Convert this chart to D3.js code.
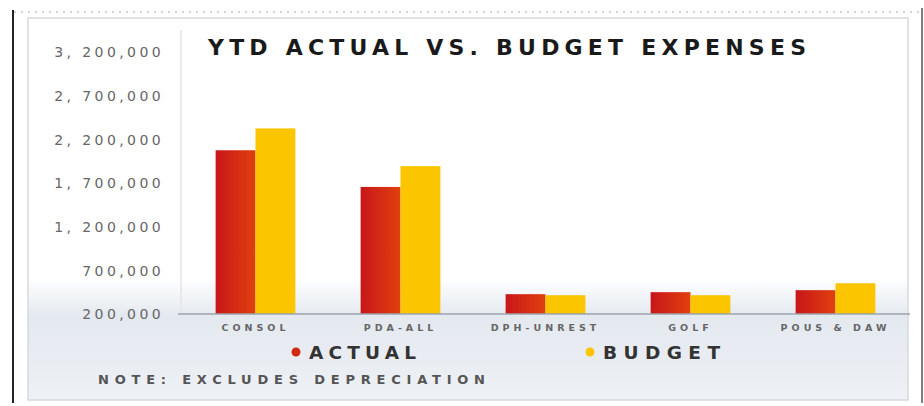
<!DOCTYPE html>
<html>
<head>
<meta charset="utf-8">
<script src="https://cdn.jsdelivr.net/npm/d3@7"></script>
<style>
  html, body { margin: 0; padding: 0; background: #fff; }
  svg { display: block; }
</style>
</head>
<body>
<div id="chart"></div>
<script>
// chart data
const categories = ["CONSOL", "PDA-ALL", "DPH-UNREST", "GOLF", "POUS & DAW"];
const actual = [2075000, 1655000, 427000, 450000, 473000];
const budget = [2325000, 1893000, 415000, 415000, 552000];
const seriesNames = ["ACTUAL", "BUDGET"];
const tickValues = [200000, 700000, 1200000, 1700000, 2200000, 2700000, 3200000];
const tickLabels = ["200,000", "700,000", "1, 200,000", "1, 700,000", "2, 200,000", "2, 700,000", "3, 200,000"];

const width = 924;
const height = 406;
const colors = { ACTUAL: "#d22a12", BUDGET: "#fbc500" };

const svg = d3.select("#chart")
  .append("svg")
  .attr("width", width)
  .attr("height", height);

const defs = svg.append("defs");
const bg = defs.append("linearGradient").attr("id", "bg").attr("x1", 0).attr("x2", 0).attr("y1", 0).attr("y2", 1);
bg.append("stop").attr("offset", "0%").attr("stop-color", "#ffffff");
bg.append("stop").attr("offset", "68%").attr("stop-color", "#ffffff");
bg.append("stop").attr("offset", "78%").attr("stop-color", "#e4e9f0");
bg.append("stop").attr("offset", "100%").attr("stop-color", "#eef1f5");

const redGrad = defs.append("linearGradient").attr("id", "redGrad").attr("x1", 0).attr("x2", 1);
redGrad.append("stop").attr("offset", "0%").attr("stop-color", "#c8161a");
redGrad.append("stop").attr("offset", "100%").attr("stop-color", "#e0400e");

// page frame
svg.append("rect").attr("x", 0).attr("y", 0).attr("width", width).attr("height", height).attr("fill", "#fff");
svg.append("rect")
  .attr("x", 28).attr("y", 18).attr("width", 880).attr("height", 382)
  .attr("fill", "url(#bg)")
  .attr("stroke", "#d6d9dd").attr("stroke-width", 1.5);
svg.append("line").attr("x1", 13).attr("x2", 13).attr("y1", 10).attr("y2", 403)
  .attr("stroke", "#222").attr("stroke-width", 2);
svg.append("line").attr("x1", 922).attr("x2", 922).attr("y1", 8).attr("y2", 403)
  .attr("stroke", "#555").attr("stroke-width", 1.5);
svg.append("line").attr("x1", 14).attr("x2", 920).attr("y1", 12).attr("y2", 12)
  .attr("stroke", "#aaa").attr("stroke-width", 1).attr("stroke-dasharray", "2,5");

const margin = { left: 183, right: 16, top: 52, bottom: 92 };
const plotW = width - margin.left - margin.right;

const x = d3.scaleBand()
  .domain(categories)
  .range([margin.left, margin.left + plotW])
  .paddingInner(0.45)
  .paddingOuter(0.225);

const xSub = d3.scaleBand()
  .domain(seriesNames)
  .range([0, x.bandwidth()]);

const y = d3.scaleLinear()
  .domain([200000, 3200000])
  .range([314, 52]);

// y axis labels
const yAxis = d3.axisLeft(y)
  .tickValues(tickValues)
  .tickFormat((d, i) => tickLabels[i])
  .tickSize(0)
  .tickPadding(0);

const yg = svg.append("g")
  .attr("transform", "translate(164,0)")
  .call(yAxis);
yg.select(".domain").remove();
yg.selectAll("text")
  .attr("fill", "#666")
  .attr("font-family", "DejaVu Sans, sans-serif")
  .attr("font-size", 14)
  .attr("letter-spacing", "3.4px")
  .attr("dy", "0.35em");

// plot area left edge
svg.append("line")
  .attr("x1", 181).attr("x2", 181).attr("y1", 30).attr("y2", 314)
  .attr("stroke", "#e4e4e4").attr("stroke-width", 1.5);

// bars
const rows = categories.map((c, i) => ({ cat: c, ACTUAL: actual[i], BUDGET: budget[i] }));

const groups = svg.append("g").selectAll("g")
  .data(rows)
  .join("g")
  .attr("transform", (d) => `translate(${x(d.cat)},0)`);

groups.selectAll("rect")
  .data((d) => seriesNames.map((s) => ({ s, v: d[s] })))
  .join("rect")
  .attr("x", (d) => xSub(d.s))
  .attr("y", (d) => y(d.v))
  .attr("width", xSub.bandwidth())
  .attr("height", (d) => y(200000) - y(d.v))
  .attr("fill", (d) => d.s === "ACTUAL" ? "url(#redGrad)" : colors.BUDGET);

// baseline / x axis
const xAxis = d3.axisBottom(x).tickSize(0).tickPadding(8);
const xg = svg.append("g")
  .attr("transform", "translate(0,314)")
  .call(xAxis);
xg.select(".domain")
  .attr("d", `M178,0H910`)
  .attr("stroke", "#9aa3ad").attr("stroke-width", 1.5);
xg.selectAll("text")
  .attr("fill", "#666")
  .attr("font-family", "DejaVu Sans, sans-serif")
  .attr("font-weight", "bold")
  .attr("font-size", 9.5)
  .attr("letter-spacing", "4px")
  .attr("dy", "0.9em");

// title
svg.append("text")
  .attr("x", 208).attr("y", 55)
  .attr("textLength", 598)
  .attr("lengthAdjust", "spacing")
  .attr("font-family", "DejaVu Sans, sans-serif")
  .attr("font-weight", "bold")
  .attr("font-size", 22)
  .attr("fill", "#1a1a1a")
  .text("YTD ACTUAL VS. BUDGET EXPENSES");

// legend
const legend = svg.append("g");
const legendX = [296, 590];
const legendW = [107, 117];
seriesNames.forEach((s, i) => {
  legend.append("circle")
    .attr("cx", legendX[i]).attr("cy", 352).attr("r", 4.5)
    .attr("fill", colors[s]);
  legend.append("text")
    .attr("x", legendX[i] + 13).attr("y", 359)
    .attr("textLength", legendW[i])
    .attr("lengthAdjust", "spacing")
    .attr("font-family", "DejaVu Sans, sans-serif")
    .attr("font-weight", "bold")
    .attr("font-size", 18.5)
    .attr("fill", "#333")
    .text(s);
});

// note
svg.append("text")
  .attr("x", 98).attr("y", 384)
  .attr("textLength", 387)
  .attr("lengthAdjust", "spacing")
  .attr("font-family", "DejaVu Sans, sans-serif")
  .attr("font-weight", "bold")
  .attr("font-size", 13)
  .attr("fill", "#555")
  .text("NOTE: EXCLUDES DEPRECIATION");
</script>
</body>
</html>
